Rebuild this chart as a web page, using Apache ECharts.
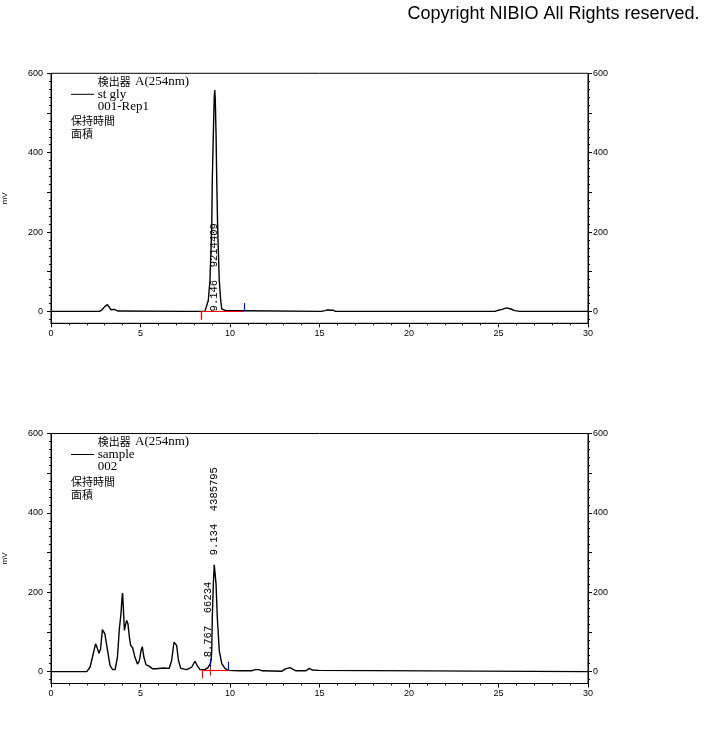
<!DOCTYPE html>
<html><head><meta charset="utf-8">
<script src="https://cdn.jsdelivr.net/npm/echarts@6/dist/echarts.min.js"></script>
<style>html,body{margin:0;padding:0;background:#fff}#c{width:708px;height:739px}</style>
</head><body><div id="c"></div>
<script>
// ---- data (retention time in min, signal in mV) ----
const stdTime   = [0, 2.7, 2.85, 3.0, 3.15, 3.25, 3.35, 3.45, 3.55, 3.63, 3.72, 3.8, 7.6, 7.68, 7.76, 8.6, 8.7, 8.79, 8.88, 8.98, 9.01, 9.07, 9.12, 9.15, 9.18, 9.22, 9.26, 9.31, 9.40, 9.48, 9.54, 9.65, 9.8, 10.75, 10.8, 15.1, 15.3, 15.45, 15.6, 15.75, 15.9, 24.8, 25.0, 25.2, 25.45, 25.7, 25.9, 26.2, 30];
const stdSignal = [0, 0, 4, 12, 17, 11, 4, 3, 5, 5, 1, 0, 0, 3, 0, 0, 2, 28, 78, 212, 330, 448, 540, 558, 530, 448, 330, 212, 78, 28, 6, 2, 1.5, 1.5, 0, 0, 2, 4, 3, 3, 0, 0, 3, 5, 9, 6, 2, 0, 0];

const sampleTime   = [0, 2.0, 2.18, 2.36, 2.49, 2.58, 2.68, 2.77, 2.87, 2.92, 3.01, 3.16, 3.30, 3.45, 3.58, 3.71, 3.82, 3.91, 3.97, 4.00, 4.04, 4.10, 4.15, 4.23, 4.30, 4.38, 4.45, 4.56, 4.69, 4.83, 4.94, 5.03, 5.10, 5.19, 5.31, 5.44, 5.53, 5.68, 5.90, 6.27, 6.60, 6.74, 6.87, 6.95, 7.02, 7.12, 7.25, 7.58, 7.86, 8.04, 8.17, 8.32, 8.60, 8.767, 8.90, 8.95, 8.98, 9.01, 9.07, 9.12, 9.16, 9.22, 9.29, 9.40, 9.54, 9.72, 9.9, 10.5, 11.2, 11.4, 11.6, 11.8, 12.9, 13.1, 13.35, 13.5, 13.69, 14.25, 14.43, 14.6, 14.95, 15.0, 30];
const sampleSignal = [0, 0, 11, 45, 70, 60, 46, 57, 106, 108, 95, 53, 15, 5, 5, 36, 108, 146, 188, 198, 162, 104, 116, 129, 120, 87, 66, 60, 36, 19, 28, 53, 63, 36, 17, 15, 17, 7, 7, 9, 8, 28, 74, 77, 66, 28, 8, 5, 11, 26, 15, 5, 5, 10, 20, 30, 53, 137, 221, 269, 250, 221, 137, 53, 20, 8, 3, 2, 2, 5, 5, 2, 1, 7, 10, 6, 2, 2, 8, 4, 3, 0, 0];

const stdPeakTime = [9.146];
const stdPeakArea = [9214409];
const stdPeakLabelAt = [0];
const samplePeakTime = [8.767, 9.134];
const samplePeakArea = [66234, 4385795];
const samplePeakLabelAt = [36, 293];

// integration marks: start (red, down) / end (blue, up)
const stdIntStart = [8.38], stdIntStartLevel = [0];
const stdIntEnd = [10.78], stdIntEndLevel = [0];
const stdBaseFrom = [8.38], stdBaseTo = [10.78], stdBaseLevel = [0];
const sampleIntStart = [8.45, 8.87], sampleIntStartLevel = [4, 11];
const sampleIntEnd = [8.87, 9.93], sampleIntEndLevel = [11, 4];
const sampleBaseFrom = [8.45], sampleBaseTo = [9.93], sampleBaseLevel = [4];

const yLabelValues = [0, 200, 400, 600];
const yMajorTickValues = [0, 100, 200, 300, 400, 500, 600];
const yMinorTickValues = [-20, 0, 20, 40, 60, 80, 100, 120, 140, 160, 180, 200, 220, 240, 260, 280, 300, 320, 340, 360, 380, 400, 420, 440, 460, 480, 500, 520, 540, 560, 580, 600];

const legendNames = ['st gly', 'sample'];
const legendSubs = ['001-Rep1', '002'];

// ---- chart ----
const chart = echarts.init(document.getElementById('c'), null, {renderer: 'canvas'});
const AX = '#000';
const tickFont = {fontSize: 9, fontFamily: 'Liberation Sans, Arial, sans-serif', color: AX};

function yAxes(gi) {
  const base = {type: 'value', gridIndex: gi, min: -30, max: 600, splitLine: {show: false}};
  return [
    Object.assign({}, base, {position: 'left', name: 'mV', nameLocation: 'middle', nameGap: 42,
      nameTextStyle: {fontSize: 8, fontFamily: 'Liberation Sans, Arial, sans-serif', color: AX},
      axisLine: {show: true, lineStyle: {color: AX, width: 1}},
      axisTick: {show: true, length: 4, customValues: yMajorTickValues, lineStyle: {color: AX}},
      axisLabel: Object.assign({show: true, customValues: yLabelValues, margin: 8}, tickFont)}),
    Object.assign({}, base, {position: 'left', axisLine: {show: false},
      axisTick: {show: true, length: 2, customValues: yMinorTickValues, lineStyle: {color: AX}},
      axisLabel: {show: false}}),
    Object.assign({}, base, {position: 'right',
      axisLine: {show: true, lineStyle: {color: AX, width: 1}},
      axisTick: {show: true, length: 4, customValues: yMajorTickValues, lineStyle: {color: AX}},
      axisLabel: Object.assign({show: true, customValues: yLabelValues, margin: 5}, tickFont)}),
    Object.assign({}, base, {position: 'right', axisLine: {show: false},
      axisTick: {show: true, length: 2, customValues: yMinorTickValues, lineStyle: {color: AX}},
      axisLabel: {show: false}})
  ];
}
function xAxis(gi) {
  return {type: 'value', gridIndex: gi, min: 0, max: 30, interval: 5, position: 'bottom',
    splitLine: {show: false}, minorSplitLine: {show: false},
    axisLine: {show: true, onZero: false, lineStyle: {color: AX, width: 1}},
    axisTick: {show: true, length: 4, lineStyle: {color: AX}},
    minorTick: {show: true, splitNumber: 5, length: 2, lineStyle: {color: AX}},
    axisLabel: Object.assign({margin: 6}, tickFont)};
}
function marks(peakT, peakA, peakAt, sT, sL, eT, eL, bF, bT, bL) {
  const mp = peakT.map((t, i) => ({name: t.toFixed(3) + '  ' + peakA[i], coord: [t, peakAt[i]]}));
  const ml = [];
  const red = {color: '#ff0000', width: 1.2, type: 'solid'};
  const blue = {color: '#0000ff', width: 1.2, type: 'solid'};
  bF.forEach((f, i) => ml.push([{coord: [f, bL[i]], lineStyle: red}, {coord: [bT[i], bL[i]], lineStyle: red}]));
  sT.forEach((t, i) => ml.push([{coord: [t, sL[i]], lineStyle: red}, {coord: [t, sL[i] - 21], lineStyle: red}]));
  eT.forEach((t, i) => ml.push([{coord: [t, eL[i]], lineStyle: blue}, {coord: [t, eL[i] + 21], lineStyle: blue}]));
  return {
    markPoint: {symbol: 'circle', symbolSize: 1, silent: true, itemStyle: {color: 'rgba(0,0,0,0)'},
      label: {show: true, position: 'inside', formatter: '{b}', rotate: 90, align: 'left', verticalAlign: 'middle',
        fontFamily: 'Liberation Mono, monospace', fontSize: 10.5, color: '#000'},
      data: mp},
    markLine: {symbol: ['none', 'none'], silent: true, z: 10, label: {show: false}, data: ml}
  };
}
const s1 = Object.assign({type: 'line', xAxisIndex: 0, yAxisIndex: 0, showSymbol: false, symbol: 'none',
  lineStyle: {color: '#000', width: 1.4}, data: stdTime.map((t, i) => [t, stdSignal[i]])},
  marks(stdPeakTime, stdPeakArea, stdPeakLabelAt, stdIntStart, stdIntStartLevel, stdIntEnd, stdIntEndLevel, stdBaseFrom, stdBaseTo, stdBaseLevel));
const s2 = Object.assign({type: 'line', xAxisIndex: 1, yAxisIndex: 4, showSymbol: false, symbol: 'none',
  lineStyle: {color: '#000', width: 1.4}, data: sampleTime.map((t, i) => [t, sampleSignal[i]])},
  marks(samplePeakTime, samplePeakArea, samplePeakLabelAt, sampleIntStart, sampleIntStartLevel, sampleIntEnd, sampleIntEndLevel, sampleBaseFrom, sampleBaseTo, sampleBaseLevel));

const gridTops = [73.3, 433.5];
const graphic = [];
const serif = '13px "Liberation Serif", "Times New Roman", serif';
const cjk = '11px "Noto Sans CJK JP", sans-serif';
gridTops.forEach((gt, i) => {
  const o = gt - 73.3;
  graphic.push({type: 'text', style: {x: 97.7, y: 81.7 + o, text: '検出器', font: cjk, fill: '#000', verticalAlign: 'middle'}});
  graphic.push({type: 'text', style: {x: 135, y: 81.7 + o, text: 'A(254nm)', font: serif, fill: '#000', verticalAlign: 'middle'}});
  graphic.push({type: 'line', shape: {x1: 71, y1: 94.3 + o, x2: 94, y2: 94.3 + o}, style: {stroke: '#000', lineWidth: 1}});
  graphic.push({type: 'text', style: {x: 97.7, y: 94.3 + o, text: legendNames[i], font: serif, fill: '#000', verticalAlign: 'middle'}});
  graphic.push({type: 'text', style: {x: 97.7, y: 106.7 + o, text: legendSubs[i], font: serif, fill: '#000', verticalAlign: 'middle'}});
  graphic.push({type: 'text', style: {x: 71, y: 121.2 + o, text: '保持時間', font: cjk, fill: '#000', verticalAlign: 'middle'}});
  graphic.push({type: 'text', style: {x: 71, y: 134.2 + o, text: '面積', font: cjk, fill: '#000', verticalAlign: 'middle'}});
});

chart.setOption({
  animation: false,
  backgroundColor: '#fff',
  title: {text: 'Copyright NIBIO All Rights reserved.', right: 8.5, top: 5, padding: 0,
    textStyle: {fontSize: 18, fontWeight: 'normal', fontFamily: 'Liberation Sans, Arial, sans-serif', color: '#000'}},
  grid: gridTops.map(t => ({left: 51, top: t, width: 537, height: 250, containLabel: false, outerBoundsMode: 'none',
    show: true, borderColor: '#000', borderWidth: 1, backgroundColor: 'transparent'})),
  xAxis: [xAxis(0), xAxis(1)],
  yAxis: yAxes(0).concat(yAxes(1)),
  series: [s1, s2],
  graphic: graphic
});
</script></body></html>
